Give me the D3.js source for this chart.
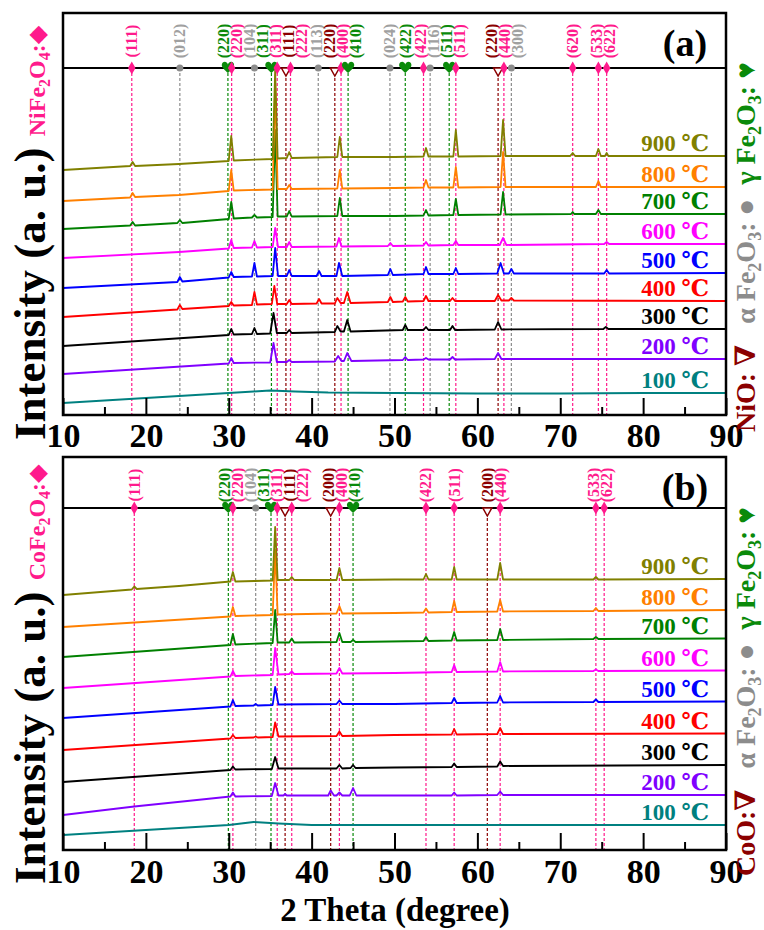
<!DOCTYPE html>
<html>
<head>
<meta charset="utf-8">
<script src="https://cdn.jsdelivr.net/npm/d3@7/dist/d3.min.js"></script>
<style>
  body { margin: 0; background: #fff; }
  text { font-family: 'Liberation Serif', 'DejaVu Serif', serif; font-weight: bold; }
</style>
</head>
<body>
<svg id="chart" width="764" height="930"></svg>
<script>
// ---- data ----
const temps = [100, 200, 300, 400, 500, 600, 700, 800, 900];
const tempColors = ['#008080', '#8000ff', '#000000', '#ff0000', '#0000ff', '#ff00ff', '#008000', '#ff8000', '#808000'];
const majorTicks = [10, 20, 30, 40, 50, 60, 70, 80, 90];
const minorTicks = [15, 25, 35, 45, 55, 65, 75, 85];

// NiFe2O4 panel (a): [2theta, intensity a.u. incl. stacking offset]
const ni100 = [[10,13],[15,15.5],[20,18],[25,20.5],[30,23],[33,24.5],[35,25.5],[38,24.5],[42,23.5],[50,23],[60,22.5],[70,22.5],[80,23],[90,23]];
const ni200 = [[10,42],[30.0,52.5],[30.3,58],[30.6,53],[35.0,53.5],[35.4,73],[35.8,54],[37.0,54],[37.3,56],[37.6,54],[42.8,54.5],[43.2,60],[43.6,55],[43.9,55],[44.3,63],[44.8,55],[51.0,56],[51.3,59],[51.6,56],[53.5,56.5],[53.8,58],[54.1,56.5],[56.7,56.5],[57.0,59],[57.3,56.5],[62.1,57],[62.5,63],[62.9,57],[90,57]];
const ni300 = [[10,70],[30.0,81],[30.3,87],[30.6,81.5],[32.8,82],[33.1,88],[33.4,82],[35.0,82.5],[35.4,103],[35.8,83],[37.0,83],[37.3,86],[37.6,83],[42.8,84],[43.1,90],[43.5,84.5],[43.9,84.5],[44.3,96],[44.7,84.5],[51.0,86],[51.3,91],[51.6,86],[53.5,86],[53.8,89],[54.1,86],[56.7,86],[57.0,90],[57.3,86],[62.1,86.5],[62.5,94],[62.9,86.5],[75.2,87],[75.5,89],[75.8,87],[90,87]];
const ni400 = [[10,99],[23.8,106.5],[24.1,111],[24.4,107],[30.0,110],[30.3,114],[30.6,110.5],[32.8,111],[33.1,124],[33.4,111.5],[35.2,112],[35.5,130],[35.85,112],[37.0,112],[37.3,116],[37.6,112],[40.6,112.5],[40.9,117],[41.2,112.5],[42.8,112.5],[43.1,118],[43.5,113],[43.9,113],[44.3,124],[44.7,113],[49.2,114],[49.5,119],[49.8,114],[51.0,114.5],[51.3,119],[51.6,114.5],[53.5,115],[53.8,120],[54.1,115],[56.7,115],[57.0,118],[57.3,115],[62.1,115],[62.5,121],[62.9,115.5],[63.8,115.5],[64.1,118],[64.4,115.5],[90,115]];
const ni500 = [[10,128],[23.8,134],[24.1,139],[24.4,134.5],[30.0,138.5],[30.3,144],[30.6,139],[32.8,139.5],[33.1,153],[33.4,139.5],[35.3,140],[35.6,168],[35.95,140],[37.0,140],[37.3,146],[37.6,140],[40.6,140],[40.9,145],[41.2,140],[43.0,140],[43.3,153],[43.7,140],[49.2,141],[49.5,147],[49.8,141],[53.5,142],[53.8,149],[54.1,142],[57.1,142],[57.4,148],[57.7,142],[62.4,142.5],[62.8,153],[63.2,142.5],[63.8,142.5],[64.1,147],[64.4,142.5],[75.3,142.5],[75.6,146],[75.9,142.5],[90,143]];
const ni600 = [[10,158],[24,164],[30.0,167.5],[30.3,176],[30.6,168],[32.8,168.5],[33.1,175],[33.4,168.5],[35.3,169],[35.6,188],[35.95,169],[37.0,169],[37.3,174],[37.6,169],[43.0,169.5],[43.3,178],[43.6,169.5],[49.2,170],[49.5,173],[49.8,170],[53.5,170.5],[53.8,174],[54.1,170.5],[57.1,171],[57.4,175],[57.7,171],[62.7,171],[63.1,178],[63.5,171],[75.3,172],[75.6,174],[75.9,172],[90,172]];
const ni700 = [[10,187],[18.1,190.5],[18.4,194],[18.7,190.5],[23.8,193],[24.1,196],[24.4,193],[30.0,197],[30.3,214],[30.6,197.5],[32.8,198.5],[33.1,201],[33.4,198.5],[35.3,199],[35.6,286],[35.9,199.5],[37.0,199.5],[37.3,205],[37.6,199.5],[43.1,200],[43.4,218],[43.7,200],[50,200],[53.5,200.5],[53.8,206],[54.1,200.5],[57.1,201],[57.4,217],[57.7,201],[62.8,201.5],[63.1,224],[63.4,201.5],[71.3,202],[71.5,204],[71.7,202],[74.3,202],[74.6,206],[74.9,202],[90,202]];
const ni800 = [[10,215],[18.1,218.5],[18.4,223],[18.7,219],[24,221],[30.0,225],[30.3,246],[30.6,225.5],[35.3,226.5],[35.6,331],[35.9,227],[37.0,227],[37.3,231],[37.6,227],[43.1,227.5],[43.4,246],[43.7,227.5],[50,228],[53.5,228.5],[53.8,236],[54.1,228.5],[57.1,228.5],[57.4,249],[57.7,228.5],[62.8,229],[63.1,264],[63.4,229],[74.3,229],[74.6,235],[74.9,229],[90,229]];
const ni900 = [[10,246],[18.1,250],[18.4,254],[18.7,250],[24,252],[30.0,255],[30.3,280],[30.6,255.5],[35.3,257],[35.6,346],[35.9,257.5],[37.0,258],[37.3,264],[37.6,258],[43.1,259],[43.4,279],[43.7,259],[50,259],[53.5,259.5],[53.8,268],[54.1,259.5],[57.1,259.5],[57.4,286],[57.7,259.5],[62.8,260],[63.1,296],[63.4,260],[71.2,260],[71.5,263],[71.8,260],[74.3,260],[74.6,267],[74.9,260],[75.4,260],[75.6,263],[75.8,260],[90,260]];
const niCurves = [ni100, ni200, ni300, ni400, ni500, ni600, ni700, ni800, ni900];

// CoFe2O4 panel (b)
const co100 = [[10,26],[15,28.5],[20,31],[25,33.5],[30,36],[33,39],[36,37.5],[40,36],[50,36],[60,36],[70,36],[80,36],[90,36]];
const co200 = [[10,46],[18.6,54.5],[25,60],[30.2,64.5],[30.5,68.5],[30.8,64.5],[35.2,65],[35.6,78],[36.0,65.5],[36.6,65.5],[36.8,67],[37.0,65.5],[42.0,65.5],[42.3,70.5],[42.7,65.5],[43.0,65.5],[43.35,68.5],[43.7,65.5],[44.6,65.5],[45.0,73],[45.4,65.5],[50,65.5],[56.9,65.5],[57.2,68.5],[57.5,65.5],[62.4,66],[62.75,69.5],[63.1,66],[90,66]];
const co300 = [[10,79],[30.2,91],[30.5,94.5],[30.8,91.5],[35.2,92],[35.6,104],[36.0,92.5],[43.0,92.5],[43.35,96],[43.7,92.5],[44.7,93],[45.0,96],[45.3,93],[50,93.5],[56.9,94],[57.2,97.5],[57.5,94],[62.4,94.5],[62.75,99.5],[63.1,95],[90,96]];
const co400 = [[10,111],[30.2,122.5],[30.5,126],[30.8,123],[33.0,123.5],[33.25,124.5],[33.5,123.5],[35.3,124],[35.6,138.5],[36.0,124.5],[43.0,125],[43.35,129.5],[43.7,125],[50,126],[56.9,126.5],[57.2,132],[57.5,126.5],[62.4,127],[62.75,133],[63.1,127],[90,127.5]];
const co500 = [[10,143],[30.2,154.5],[30.5,161],[30.8,155],[33.0,155.5],[33.25,157],[33.5,155.5],[35.3,156],[35.6,174],[36.0,156.5],[43.0,157],[43.35,160.5],[43.7,157],[50,157],[56.9,158],[57.2,163],[57.5,158],[62.4,158.5],[62.75,165],[63.1,158.5],[74.0,159],[74.3,161.5],[74.6,159],[90,159.5]];
const co600 = [[10,173],[30.2,184.5],[30.5,190],[30.8,185],[35.3,186],[35.6,213],[36.0,186.5],[37.3,187],[37.6,189.5],[37.9,187],[43.0,187.5],[43.35,193],[43.7,187.5],[50,188],[56.9,189],[57.2,196],[57.5,189],[62.4,189.5],[62.75,199],[63.1,189.5],[74.0,190],[74.3,191.5],[74.6,190],[90,190.5]];
const co700 = [[10,204],[30.2,216],[30.5,227],[30.8,216.5],[35.3,218],[35.6,251],[35.9,218.5],[37.3,218.5],[37.6,222.5],[37.9,218.5],[43.0,219],[43.35,228],[43.7,219],[44.7,219],[45.0,221],[45.3,219],[53.5,220],[53.8,224],[54.1,220],[56.9,220.5],[57.2,229],[57.5,220.5],[62.4,221],[62.75,232],[63.1,221],[74.0,222],[74.3,224],[74.6,222],[90,222.5]];
const co800 = [[10,234],[30.2,244.5],[30.5,254],[30.8,245],[35.3,246],[35.6,311],[35.9,246.5],[43.0,247.5],[43.35,255],[43.7,247.5],[50,248],[53.5,248.5],[53.8,252.5],[54.1,248.5],[56.9,249],[57.2,260],[57.5,249],[62.4,249.5],[62.75,261],[63.1,249.5],[74.0,250],[74.3,253],[74.6,250],[90,251]];
const co900 = [[10,266],[18.3,271.5],[18.6,274.5],[18.9,272],[24,275],[30.2,279.5],[30.5,289],[30.8,279.5],[33.1,280],[35.3,280.5],[35.6,334],[35.9,281],[37.3,281],[37.6,284],[37.9,281],[43.0,281],[43.35,293],[43.7,281],[50,281.5],[53.5,281.5],[53.8,287],[54.1,281.5],[56.9,281.5],[57.2,294],[57.5,281.5],[62.4,281.5],[62.75,298],[63.1,281.5],[74.0,281.5],[74.3,284],[74.6,281.5],[90,282]];
const coCurves = [co100, co200, co300, co400, co500, co600, co700, co800, co900];

// reference reflections: [phase, hkl, 2theta]
const niRefl = [
  ['spinel','(111)',18.3], ['alpha','(012)',24.1], ['gamma','(220)',29.9], ['spinel','(220)',30.35],
  ['alpha','(104)',33.1], ['gamma','(311)',35.15], ['spinel','(311)',35.85], ['oxide','(111)',36.9],
  ['spinel','(222)',37.45], ['alpha','(113)',40.8], ['oxide','(220)',42.8], ['spinel','(400)',43.55],
  ['gamma','(410)',44.4], ['alpha','(024)',49.45], ['gamma','(422)',51.3], ['spinel','(422)',53.5],
  ['alpha','(116)',54.3], ['gamma','(511)',56.6], ['spinel','(511)',57.4], ['oxide','(220)',62.5],
  ['spinel','(440)',63.2], ['alpha','(300)',64.1], ['spinel','(620)',71.5], ['spinel','(533)',74.6],
  ['spinel','(622)',75.6]
];
const coRefl = [
  ['spinel','(111)',18.6], ['gamma','(220)',29.95], ['spinel','(220)',30.5], ['alpha','(104)',33.25],
  ['gamma','(311)',35.1], ['spinel','(311)',35.85], ['oxide','(111)',36.8], ['spinel','(222)',37.6],
  ['oxide','(200)',42.3], ['spinel','(400)',43.35], ['gamma','(410)',45.0], ['spinel','(422)',53.8],
  ['spinel','(511)',57.2], ['oxide','(200)',61.2], ['spinel','(440)',62.75], ['spinel','(533)',74.3],
  ['spinel','(622)',75.3]
];

const phaseColor = { spinel: '#ff1a8c', alpha: '#8c8c8c', gamma: '#0a8a0a', oxide: '#8b0000' };
const labelColor = { spinel: '#ff1a8c', alpha: '#a0a0a0', gamma: '#0a8a0a', oxide: '#8b0000' };

// ---- layout ----
const W = 764, H = 930;
const left = 63, right = 726;
const svg = d3.select('#chart');
svg.append('rect').attr('width', W).attr('height', H).attr('fill', '#fff');

const x = d3.scaleLinear().domain([10, 90]).range([left, right]);

const heartPath = 'M0,5 C-3,2 -7,-1 -6,-4 C-5,-7 -1,-7 0,-3.5 C1,-7 5,-7 6,-4 C7,-1 3,2 0,5 Z';
const triPath = 'M-4.5,0 L4.5,0 L0,8 Z';

// push crowded hkl labels apart so they do not overlap
function spreadLabels(xs, gap) {
  const p = xs.slice();
  for (let it = 0; it < 60; it++) {
    for (let i = 1; i < p.length; i++) {
      const d = p[i] - p[i - 1];
      if (d < gap) { const s = (gap - d) / 2; p[i - 1] -= s; p[i] += s; }
    }
  }
  return p;
}

function drawPanel(cfg) {
  const g = svg.append('g');
  const y = d3.scaleLinear().domain([0, 350]).range([cfg.base, cfg.base - 350]);

  const clipId = 'clip-' + cfg.tag;
  svg.append('clipPath').attr('id', clipId)
    .append('rect').attr('x', left).attr('y', cfg.mark).attr('width', right - left).attr('height', cfg.axis - cfg.mark);

  // reference lines
  g.append('g').selectAll('line').data(cfg.refl).join('line')
    .attr('x1', d => x(d[2])).attr('x2', d => x(d[2]))
    .attr('y1', cfg.mark).attr('y2', cfg.axis)
    .attr('stroke', d => phaseColor[d[0]])
    .attr('stroke-width', 1.2)
    .attr('stroke-dasharray', '3,2');

  // patterns
  const line = d3.line().x(d => x(d[0])).y(d => y(d[1]));
  g.append('g').attr('clip-path', `url(#${clipId})`)
    .selectAll('path').data(cfg.curves).join('path')
    .attr('d', line)
    .attr('fill', 'none')
    .attr('stroke', (d, i) => tempColors[i])
    .attr('stroke-width', 1.8)
    .attr('stroke-linejoin', 'round');

  // temperature labels
  g.append('g').selectAll('text').data(cfg.curves).join('text')
    .attr('x', 709)
    .attr('y', d => y(d[d.length - 1][1]) - 5)
    .attr('text-anchor', 'end')
    .attr('font-size', 23)
    .attr('fill', (d, i) => tempColors[i])
    .text((d, i) => `${temps[i]} ℃`);

  // frame and marker strip
  g.append('rect').attr('x', left).attr('y', cfg.top)
    .attr('width', right - left).attr('height', cfg.axis - cfg.top)
    .attr('fill', 'none').attr('stroke', '#000').attr('stroke-width', 2.5);
  g.append('line').attr('x1', left).attr('x2', right).attr('y1', cfg.mark).attr('y2', cfg.mark)
    .attr('stroke', '#000').attr('stroke-width', 2);

  // axis
  const ax = g.append('g').attr('transform', `translate(0,${cfg.axis})`)
    .call(d3.axisBottom(x).tickValues(majorTicks).tickSize(-17).tickPadding(cfg.pad).tickFormat(d3.format('d')));
  ax.select('.domain').remove();
  ax.selectAll('line').attr('stroke-width', 2);
  ax.selectAll('text').attr('font-size', 34).attr('fill', '#000')
    .attr('font-family', "'Liberation Serif', serif").attr('font-weight', 'bold');
  const axm = g.append('g').attr('transform', `translate(0,${cfg.axis})`)
    .call(d3.axisBottom(x).tickValues(minorTicks).tickSize(-8).tickFormat(''));
  axm.select('.domain').remove();
  axm.selectAll('line').attr('stroke-width', 2);

  // markers
  const mk = g.append('g');
  cfg.refl.forEach(d => {
    const px = x(d[2]);
    if (d[0] === 'spinel') {
      mk.append('path').attr('d', d3.symbol(d3.symbolDiamond, 48)())
        .attr('transform', `translate(${px},${cfg.mark})`).attr('fill', phaseColor.spinel);
    } else if (d[0] === 'alpha') {
      mk.append('circle').attr('cx', px).attr('cy', cfg.mark).attr('r', 3.5).attr('fill', phaseColor.alpha);
    } else if (d[0] === 'gamma') {
      mk.append('path').attr('d', heartPath)
        .attr('transform', `translate(${px},${cfg.mark})`).attr('fill', phaseColor.gamma);
    } else {
      mk.append('path').attr('d', triPath)
        .attr('transform', `translate(${px},${cfg.mark})`)
        .attr('fill', '#fff').attr('stroke', phaseColor.oxide).attr('stroke-width', 1.5);
    }
  });

  // hkl labels
  const sorted = cfg.refl.slice().sort((a, b) => a[2] - b[2]);
  const lx = spreadLabels(sorted.map(d => x(d[2])), 13);
  const ly = cfg.top + 28;
  g.append('g').selectAll('text').data(sorted).join('text')
    .attr('transform', (d, i) => `translate(${lx[i]},${ly}) rotate(-90)`)
    .attr('text-anchor', 'middle')
    .attr('dominant-baseline', 'central')
    .attr('font-size', 16)
    .attr('fill', d => labelColor[d[0]])
    .text(d => d[1]);

  // panel tag
  g.append('text').attr('x', 685).attr('y', cfg.top + 43)
    .attr('text-anchor', 'middle').attr('font-size', 38).attr('fill', '#000')
    .text(`(${cfg.tag})`);

  // left title
  const lt = g.append('text')
    .attr('transform', `translate(45,${cfg.top + 427}) rotate(-90)`)
    .attr('font-size', 45).attr('fill', '#000');
  lt.append('tspan').text('Intensity (a. u.) ');
  const pink = phaseColor.spinel;
  lt.append('tspan').attr('font-size', 24).attr('fill', pink).text(cfg.spinel);
  lt.append('tspan').attr('font-size', 16).attr('fill', pink).attr('dy', 5).text('2');
  lt.append('tspan').attr('font-size', 24).attr('fill', pink).attr('dy', -5).text('O');
  lt.append('tspan').attr('font-size', 16).attr('fill', pink).attr('dy', 5).text('4');
  lt.append('tspan').attr('font-size', 24).attr('fill', pink).attr('dy', -5).text(':◆');

  // right legend
  const rt = g.append('text')
    .attr('transform', `translate(755,${cfg.top + 419}) rotate(-90)`)
    .attr('font-size', 28).attr('xml:space', 'preserve').style('white-space', 'pre');
  rt.append('tspan').attr('fill', phaseColor.oxide).text(cfg.oxide + '   ');
  rt.append('tspan').attr('fill', phaseColor.alpha).text('α Fe');
  rt.append('tspan').attr('fill', phaseColor.alpha).attr('font-size', 18).attr('dy', 6).text('2');
  rt.append('tspan').attr('fill', phaseColor.alpha).attr('dy', -6).text('O');
  rt.append('tspan').attr('fill', phaseColor.alpha).attr('font-size', 18).attr('dy', 6).text('3');
  rt.append('tspan').attr('fill', phaseColor.alpha).attr('dy', -6).text(': ●  ');
  rt.append('tspan').attr('fill', phaseColor.gamma).text('γ Fe');
  rt.append('tspan').attr('fill', phaseColor.gamma).attr('font-size', 18).attr('dy', 6).text('2');
  rt.append('tspan').attr('fill', phaseColor.gamma).attr('dy', -6).text('O');
  rt.append('tspan').attr('fill', phaseColor.gamma).attr('font-size', 18).attr('dy', 6).text('3');
  rt.append('tspan').attr('fill', phaseColor.gamma).attr('dy', -6).text(': ♥');
}

drawPanel({ tag: 'a', top: 13, mark: 68, axis: 415, base: 416, pad: 8,
  curves: niCurves, refl: niRefl, spinel: 'NiFe', oxide: 'NiO: ∇' });
drawPanel({ tag: 'b', top: 457, mark: 508, axis: 850, base: 861, pad: 9,
  curves: coCurves, refl: coRefl, spinel: 'CoFe', oxide: 'CoO:∇' });

svg.append('text').attr('x', 395).attr('y', 921)
  .attr('text-anchor', 'middle').attr('font-size', 33).attr('fill', '#000')
  .text('2 Theta (degree)');
</script>
</body>
</html>
